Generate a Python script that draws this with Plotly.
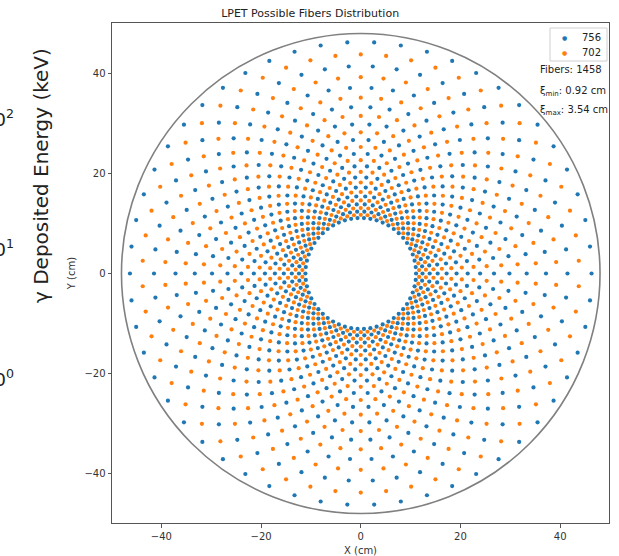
import numpy as np
import plotly.graph_objects as go

# ---- data ----
blue_ring_radii = [11.10, 12.39, 13.83, 15.43, 17.22, 19.22, 21.45, 23.94,
                   26.73, 29.83, 33.29, 37.16, 41.47, 46.30]
orange_ring_radii = [11.73, 13.09, 14.61, 16.30, 18.20, 20.31, 22.66, 25.30,
                     28.23, 31.51, 35.17, 39.26, 43.81]
fibers_per_ring = 54
blue_angle_offset = 0.0      # in units of angular step
orange_angle_offset = 0.5
outer_circle_radius = 48.0
series_names = ["756", "702"]
series_colors = ["#1f77b4", "#ff7f0e"]
x_ticks = [-40, -20, 0, 20, 40]
y_ticks = [-40, -20, 0, 20, 40]


def ring_points(radii, offset):
    step = 2 * np.pi / fibers_per_ring
    ang = (np.arange(fibers_per_ring) + offset) * step
    xs, ys = [], []
    for r in radii:
        xs.extend(r * np.cos(ang))
        ys.extend(r * np.sin(ang))
    return xs, ys


bx, by = ring_points(blue_ring_radii, blue_angle_offset)
ox, oy = ring_points(orange_ring_radii, orange_angle_offset)

fig = go.Figure()
fig.add_trace(go.Scatter(x=bx, y=by, mode="markers", name=series_names[0],
                         marker=dict(color=series_colors[0], size=4.2)))
fig.add_trace(go.Scatter(x=ox, y=oy, mode="markers", name=series_names[1],
                         marker=dict(color=series_colors[1], size=4.2)))

fig.add_shape(type="circle", xref="x", yref="y",
              x0=-outer_circle_radius, y0=-outer_circle_radius,
              x1=outer_circle_radius, y1=outer_circle_radius,
              line=dict(color="#808080", width=1.6), layer="below")

W, H = 619, 556
L, R, T, B = 112, 10, 23, 33
pw, ph = W - L - R, H - T - B


def px(x):
    return (x - L) / pw


def py(y):
    return (H - B - y) / ph


# manual legend box (matplotlib style)
lx0, lx1, ly0, ly1 = px(550), px(607), py(61), py(28)
fig.add_shape(type="rect", xref="paper", yref="paper", x0=lx0, x1=lx1, y0=ly0, y1=ly1,
              line=dict(color="#d0d0d0", width=1), fillcolor="rgba(255,255,255,0.85)",
              layer="above")

ann = []
for name, col, ypix in [(series_names[0], series_colors[0], 37),
                        (series_names[1], series_colors[1], 52)]:
    ann.append(dict(text="●", x=px(564), y=py(ypix), xref="paper", yref="paper",
                    xanchor="center", yanchor="middle", showarrow=False,
                    font=dict(size=6, color=col, family="DejaVu Sans")))
    ann.append(dict(text=name, x=px(603), y=py(ypix), xref="paper", yref="paper",
                    xanchor="right", yanchor="middle", showarrow=False,
                    font=dict(size=10, color="#222", family="DejaVu Sans")))

for text, ypix in [("Fibers: 1458", 70), ("ξ<sub>min</sub>: 0.92 cm", 91),
                   ("ξ<sub>max</sub>: 3.54 cm", 110)]:
    ann.append(dict(text=text, x=px(538), y=py(ypix), xref="paper", yref="paper",
                    xanchor="left", yanchor="middle", showarrow=False,
                    font=dict(size=10, color="#222", family="DejaVu Sans")))

# stray pieces of a neighbouring figure on the left
ann.append(dict(text="γ Deposited Energy (keV)", x=px(41), y=py(176), xref="paper",
                yref="paper", xanchor="center", yanchor="middle", textangle=-90,
                showarrow=False, font=dict(size=20, color="#222", family="DejaVu Sans")))
for label, ypix in [("10<sup>2</sup>", 118), ("10<sup>1</sup>", 248), ("10<sup>0</sup>", 378)]:
    ann.append(dict(text=label, x=px(16), y=py(ypix), xref="paper", yref="paper",
                    xanchor="right", yanchor="middle", showarrow=False,
                    font=dict(size=18, color="#222", family="DejaVu Sans")))

axis_common = dict(showgrid=False, zeroline=False, showline=True, mirror=True,
                   linecolor="#555", linewidth=1, ticks="outside", ticklen=3.5,
                   tickcolor="#555", tickfont=dict(size=10, color="#333"),
                   automargin=False)

fig.update_layout(
    width=W, height=H,
    margin=dict(l=L, r=R, t=T, b=B, pad=0, autoexpand=False),
    paper_bgcolor="white", plot_bgcolor="white",
    font=dict(family="DejaVu Sans", color="#222"),
    title=dict(text="LPET Possible Fibers Distribution", x=px(361), xanchor="center",
               y=1 - 13 / H, yanchor="middle", font=dict(size=11, color="#222"),
               automargin=False),
    xaxis=dict(range=[-49.9, 49.8], tickvals=x_ticks,
               title=dict(text="X (cm)", font=dict(size=10, color="#333"), standoff=9),
               **axis_common),
    yaxis=dict(range=[-49.9, 50.1], tickvals=y_ticks,
               title=dict(text="Y (cm)", font=dict(size=10, color="#333"), standoff=6),
               **axis_common),
    annotations=ann,
    showlegend=False,
)

fig.write_html("out.html")
